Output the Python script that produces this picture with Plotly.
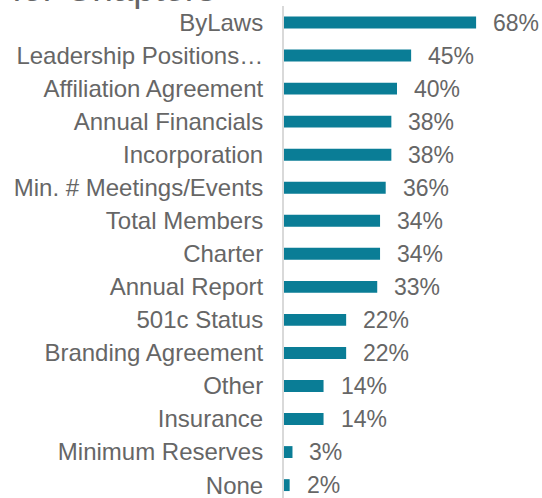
import plotly.graph_objects as go

categories = ["ByLaws", "Leadership Positions…", "Affiliation Agreement", "Annual Financials",
              "Incorporation", "Min. # Meetings/Events", "Total Members", "Charter",
              "Annual Report", "501c Status", "Branding Agreement", "Other", "Insurance",
              "Minimum Reserves", "None"]
values = [68, 45, 40, 38, 38, 36, 34, 34, 33, 22, 22, 14, 14, 3, 2]
value_labels = [f"{v}%" for v in values]
title_text = "for Chapters"

FONT = "Liberation Sans, Arial, sans-serif"
GRAY = "#666666"
BAR = "#0a7d96"

W, H = 542, 498
L, R, T, B = 284, 32, 6, 0

fig = go.Figure(go.Bar(
    x=values, y=categories, orientation="h",
    marker=dict(color=BAR, line=dict(width=0)),
    width=0.36, hoverinfo="skip",
))

ann = [dict(x=v, y=c, text=t, xref="x", yref="y", xanchor="left", yanchor="middle",
            xshift=15, showarrow=False, font=dict(family=FONT, size=23, color=GRAY))
       for v, c, t in zip(values, categories, value_labels)]
ann.append(dict(x=(10 - L) / (W - L - R), y=1, xref="paper", yref="paper",
                xanchor="left", yanchor="bottom", yshift=-5, text=title_text,
                showarrow=False, font=dict(family=FONT, size=37, color=GRAY)))

fig.update_layout(
    width=W, height=H,
    margin=dict(l=L, r=R, t=T, b=B, autoexpand=False),
    paper_bgcolor="white", plot_bgcolor="white",
    showlegend=False,
    annotations=ann,
    xaxis=dict(range=[0, 80], visible=False, fixedrange=True),
    yaxis=dict(categoryorder="array", categoryarray=categories,
               range=[14.39, -0.5], showgrid=False, zeroline=False,
               showline=True, linecolor="#d9d9d9", linewidth=2,
               ticks="", ticklabelstandoff=14, fixedrange=True,
               tickfont=dict(family=FONT, size=24, color=GRAY)),
)

fig.write_html("out.html", config={"displayModeBar": False},
               post_script="document.body.style.margin='0';document.body.style.overflow='hidden';")
